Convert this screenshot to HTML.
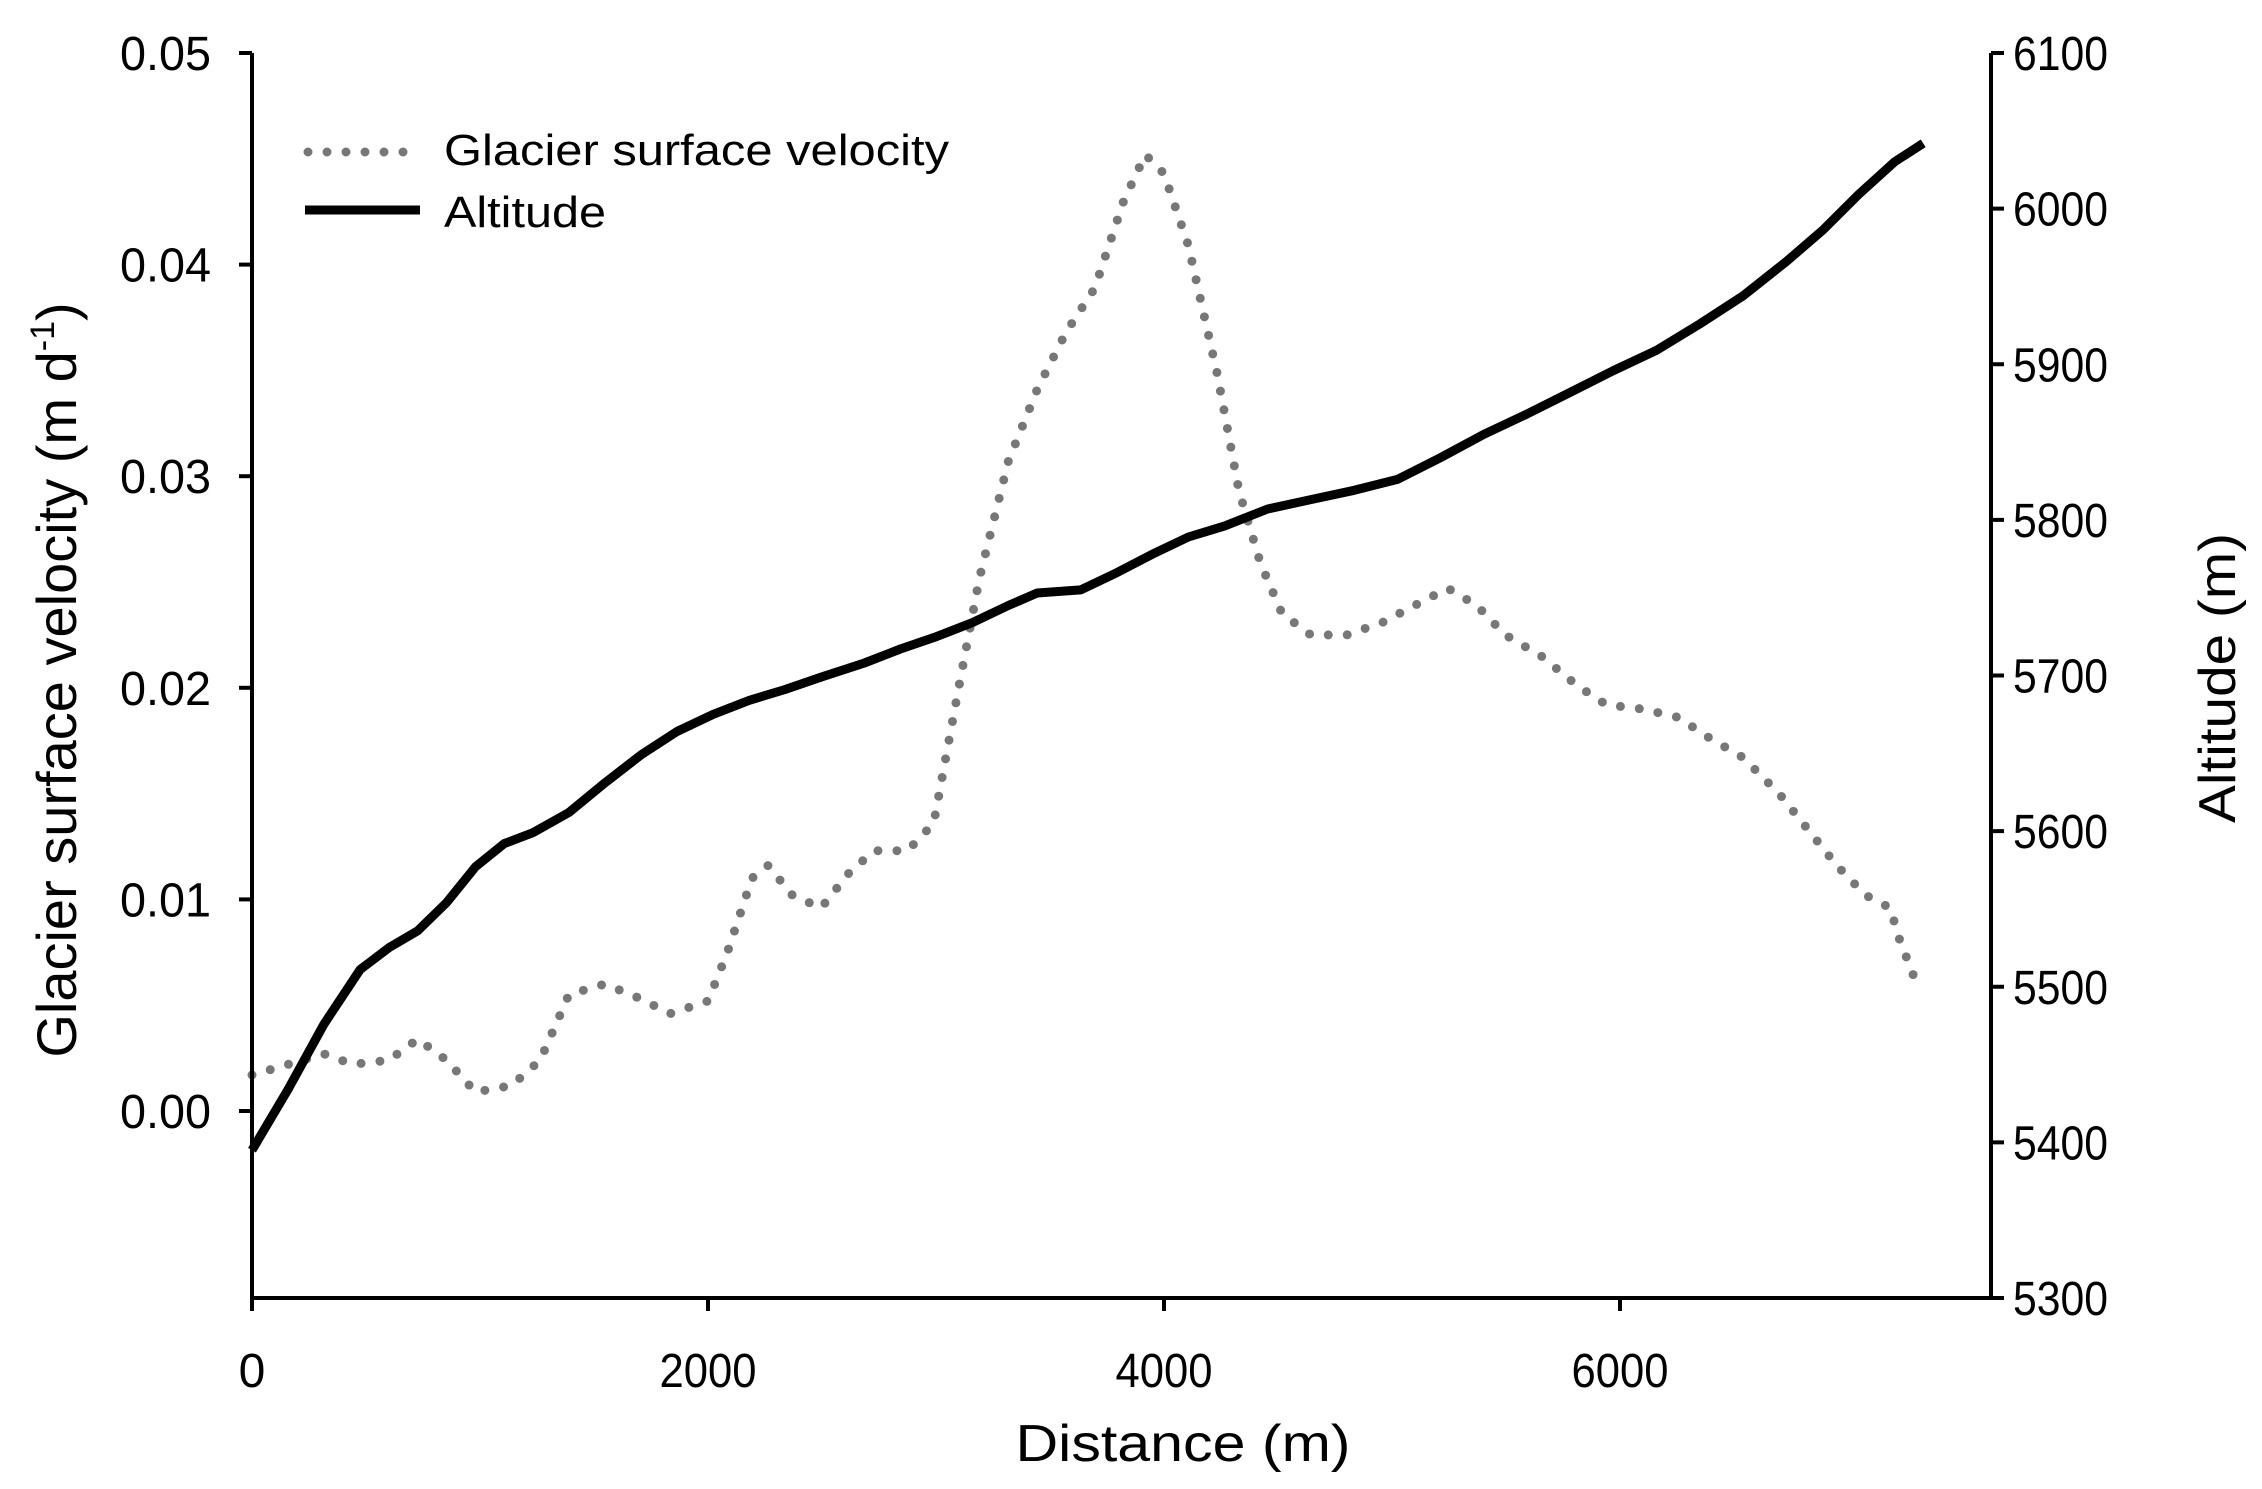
<!DOCTYPE html>
<html><head><meta charset="utf-8">
<style>
html,body{margin:0;padding:0;background:#fff;}
svg{display:block;font-family:"Liberation Sans",Arial,sans-serif;}
</style></head>
<body>
<svg id="chart" width="2262" height="1489" viewBox="0 0 2262 1489" xmlns="http://www.w3.org/2000/svg">
<rect width="2262" height="1489" fill="#fff"/>
<g id="marks"></g>
<g id="axes"></g>
<g>
  <line x1="308" y1="152" x2="420" y2="152" stroke="#777" stroke-width="9" stroke-linecap="round" stroke-dasharray="0 19"/>
  <text x="444" y="165" font-size="44" textLength="505" lengthAdjust="spacingAndGlyphs">Glacier surface velocity</text>
  <line x1="305" y1="210" x2="420" y2="210" stroke="#000" stroke-width="9"/>
  <text x="444" y="227" font-size="44" textLength="162" lengthAdjust="spacingAndGlyphs">Altitude</text>
</g>
<text x="1183" y="1461" font-size="52" text-anchor="middle" textLength="335" lengthAdjust="spacingAndGlyphs">Distance (m)</text>
<text transform="translate(76,680) rotate(-90)" font-size="56" text-anchor="middle">Glacier surface velocity (m d<tspan font-size="34" dy="-22">-1</tspan><tspan dy="22">)</tspan></text>
<text transform="translate(2235,678) rotate(-90)" font-size="52" text-anchor="middle" textLength="290" lengthAdjust="spacingAndGlyphs">Altitude (m)</text>
</svg>
<script>
const distV = [0,158,316,442,600,727,853,980,1138,1264,1390,1548,1706,1833,2000,2085,2193,2263,2370,2496,2622,2730,2875,2990,3096,3191,3317,3444,3570,3697,3823,3918,4000,4107,4234,4329,4423,4518,4644,4802,4960,5118,5245,5371,5497,5655,5813,5940,6098,6256,6382,6540,6698,6825,6951,7077,7185,7223,7298];
const velocity = [0.0017,0.0022,0.0027,0.0022,0.0024,0.0034,0.0024,0.0009,0.0012,0.0024,0.0055,0.006,0.0053,0.0046,0.0052,0.0075,0.011,0.0116,0.0102,0.0096,0.0113,0.0123,0.0123,0.0136,0.0198,0.0252,0.0307,0.0341,0.0368,0.0389,0.043,0.0452,0.0443,0.0409,0.0348,0.0293,0.0259,0.0235,0.0225,0.0225,0.0231,0.024,0.0247,0.0239,0.0225,0.0215,0.0201,0.0192,0.019,0.0186,0.0177,0.0167,0.015,0.0133,0.0116,0.0102,0.0096,0.0082,0.0061];
const distA = [0,158,316,474,600,727,853,980,1106,1232,1390,1548,1706,1864,2022,2180,2338,2496,2686,2844,3002,3160,3317,3444,3634,3792,3950,4107,4265,4455,4644,4834,5024,5213,5403,5592,5782,5972,6161,6351,6540,6730,6888,7046,7204,7330];
const altitude = [5395,5434,5476,5511,5525,5536,5554,5577,5592,5599,5612,5631,5649,5664,5675,5684,5691,5699,5708,5717,5725,5734,5745,5753,5755,5766,5778,5789,5796,5807,5813,5819,5826,5840,5855,5868,5882,5896,5909,5926,5944,5966,5986,6009,6030,6042];
const xTicks = [0,2000,4000,6000];
const xTickLabels = ["0","2000","4000","6000"];
const yLeftTicks = [0,0.01,0.02,0.03,0.04,0.05];
const yLeftLabels = ["0.00","0.01","0.02","0.03","0.04","0.05"];
const yRightTicks = [5300,5400,5500,5600,5700,5800,5900,6000,6100];
const yRightLabels = ["5300","5400","5500","5600","5700","5800","5900","6000","6100"];

const L=252,R=1991,T=53,B=1298;
function xs(d){return L+(d-0)*(708-252)/2000;}
function yl(v){return 1111-(v)*(1111-53)/0.05;}
function yr(a){return B-(a-5300)*(B-T)/800;}
const NS="http://www.w3.org/2000/svg";
function mk(tag,attrs,parent){const e=document.createElementNS(NS,tag);for(const k in attrs)e.setAttribute(k,attrs[k]);parent.appendChild(e);return e;}
const marks=document.getElementById('marks'), axes=document.getElementById('axes');

const vp=mk('polyline',{points:distV.map((d,i)=>xs(d).toFixed(1)+','+yl(velocity[i]).toFixed(1)).join(' '),fill:'none',stroke:'#777','stroke-width':9,'stroke-linecap':'round','stroke-dasharray':'0 19'},marks);


const ap=mk('polyline',{points:distA.map((d,i)=>xs(d).toFixed(1)+','+yr(altitude[i]).toFixed(1)).join(' '),fill:'none',stroke:'#000','stroke-width':9,'stroke-linejoin':'round'},marks);



const frame=mk('path',{d:`M${L},${T} V${B} H${R} V${T}`,fill:'none',stroke:'#000','stroke-width':4},axes);



xTicks.forEach((t,i)=>{
  const x=xs(t);
  const tk=mk('line',{x1:x,y1:B,x2:x,y2:B+13,stroke:'#000','stroke-width':4},axes);
  
  
  const tx=mk('text',{x:x,y:1387,'font-size':48,'text-anchor':'middle'},axes);
  tx.textContent=xTickLabels[i];
  if(xTickLabels[i].length>1){tx.setAttribute('textLength',97);tx.setAttribute('lengthAdjust','spacingAndGlyphs');}
  
  
});
yLeftTicks.forEach((t,i)=>{
  const y=yl(t);
  const tk=mk('line',{x1:L-13,y1:y,x2:L,y2:y,stroke:'#000','stroke-width':4},axes);
  
  
  const tx=mk('text',{x:211,y:y+17,'font-size':48,'text-anchor':'end','textLength':91,'lengthAdjust':'spacingAndGlyphs'},axes);
  tx.textContent=yLeftLabels[i];
  
  
});
yRightTicks.forEach((t,i)=>{
  const y=yr(t);
  const tk=mk('line',{x1:R,y1:y,x2:R+13,y2:y,stroke:'#000','stroke-width':4},axes);
  
  
  const tx=mk('text',{x:2013,y:y+17,'font-size':48,'text-anchor':'start','textLength':95,'lengthAdjust':'spacingAndGlyphs'},axes);
  tx.textContent=yRightLabels[i];
  
  
});
</script>
</body></html>
